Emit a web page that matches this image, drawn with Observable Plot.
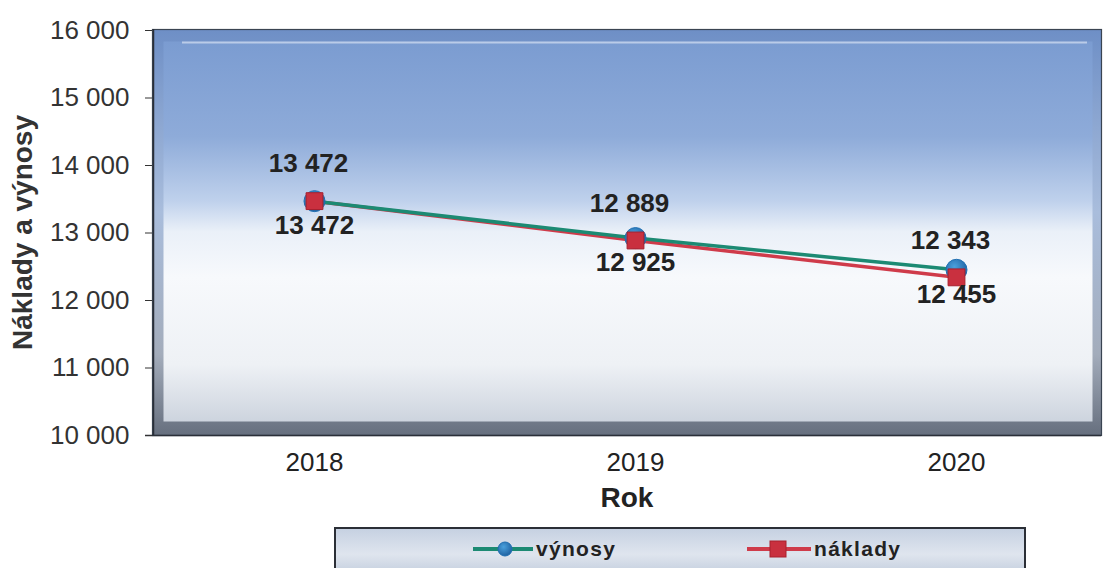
<!DOCTYPE html>
<html><head><meta charset="utf-8">
<script src="https://cdn.jsdelivr.net/npm/d3@7"></script>
<script src="https://cdn.jsdelivr.net/npm/@observablehq/plot@0.6"></script>
<style>
body{margin:0;background:#fff;overflow:hidden;font-family:"Liberation Sans",Arial,sans-serif;}
#chart{position:relative;width:1103px;height:568px;overflow:hidden;}
#chart svg.plot{position:absolute;left:0;top:0;}
#legend{position:absolute;left:334px;top:527px;width:692px;height:50px;border:2px solid #2b2f36;box-sizing:border-box;
  background:linear-gradient(#c6d1e2,#dfe5ee 55%,#c2cddd);}
.li{position:absolute;top:6px;height:28px;display:flex;align-items:center;font-weight:bold;font-size:21px;letter-spacing:1.3px;color:#222;}
.li svg{margin-right:3px;}
</style></head>
<body><div id="chart"></div>
<script>
const years = ["2018", "2019", "2020"];
const vynosy = [13472, 12925, 12455];
const naklady = [13472, 12889, 12343];
const yTicks = [10000, 11000, 12000, 13000, 14000, 15000, 16000];
const seriesNames = ["výnosy", "náklady"];
const colors = {"výnosy": "#1c8a73", "náklady": "#cf3b4a"};

const fmt = d => d3.format(",")(d).replace(/,/g, " ");
const rowsV = years.map((y, i) => ({year: y, value: vynosy[i], series: seriesNames[0]}));
const rowsN = years.map((y, i) => ({year: y, value: naklady[i], series: seriesNames[1]}));

const plot = Plot.plot({
  width: 1103, height: 520,
  marginLeft: 152, marginRight: 2, marginTop: 29, marginBottom: 85,
  style: {fontFamily: "'Liberation Sans', Arial, sans-serif", background: "transparent"},
  x: {type: "point", domain: years, range: [313, 956], padding: 0, label: null},
  y: {domain: [10000, 16000], range: [435, 30], label: null},
  marks: [
    Plot.frame({fill: "url(#gOut)", stroke: "#3a4452", strokeWidth: 1.2}),
    Plot.frame({fill: "url(#gIn)", insetTop: 12, insetLeft: 11, insetBottom: 14, insetRight: 9}),
    Plot.ruleY([16000], {dy: 12, insetLeft: 30, insetRight: 14, stroke: "#eef3fb", strokeWidth: 2, strokeOpacity: 0.55}),
    Plot.ruleY([10000], {stroke: "#2a2f38", strokeWidth: 1.5, insetLeft: -7}),
    Plot.ruleX([years[0]], {dx: -(313 - 152), stroke: "#2a2f38", strokeWidth: 1.5}),
    Plot.axisY({ticks: yTicks, tickFormat: fmt, tickSize: 7, tickPadding: 16, fontSize: 26, stroke: "#333", color: "#333"}),
    Plot.axisX({tickSize: 0, tickPadding: 17, fontSize: 26, color: "#222"}),
    Plot.text(["Náklady a výnosy"], {frameAnchor: "left", textAnchor: "middle", dx: -129, rotate: -90, fontSize: 28, fontWeight: "bold", fill: "#333"}),
    Plot.text(["Rok"], {frameAnchor: "bottom", dy: 71, fontSize: 28, fontWeight: "bold", fill: "#222"}),
    Plot.line(rowsN, {x: "year", y: "value", stroke: colors["náklady"], strokeWidth: 3.5}),
    Plot.line(rowsV, {x: "year", y: "value", stroke: colors["výnosy"], strokeWidth: 3.5}),
    Plot.dot(rowsV, {x: "year", y: "value", r: 10.5, fill: "url(#gDot)", stroke: "#1f6fb2", strokeWidth: 1}),
    Plot.dot(rowsN, {x: "year", y: "value", symbol: "square", r: 9.5, fill: "#c9303f", stroke: "#a8202e", strokeWidth: 1}),
    Plot.text(rowsV, {x: "year", y: "value", text: d => fmt(d.value), dy: 25, fontSize: 26, fontWeight: "bold", fill: "#222"}),
    Plot.text(rowsN, {x: "year", y: "value", text: d => fmt(d.value), dy: -37, dx: -6, fontSize: 26, fontWeight: "bold", fill: "#222"})
  ]
});

const ns = "http://www.w3.org/2000/svg";
const defs = document.createElementNS(ns, "defs");
defs.innerHTML = `
<linearGradient id="gOut" x1="0" y1="0" x2="0" y2="1">
  <stop offset="0" stop-color="#6e8fc6"/><stop offset="0.45" stop-color="#a9bddc"/>
  <stop offset="0.8" stop-color="#a3acbb"/><stop offset="1" stop-color="#666f7e"/>
</linearGradient>
<linearGradient id="gIn" x1="0" y1="0" x2="0" y2="1">
  <stop offset="0" stop-color="#7b9cd1"/><stop offset="0.25" stop-color="#8eabd9"/>
  <stop offset="0.42" stop-color="#bfd1ec"/><stop offset="0.5" stop-color="#eaf0f8"/>
  <stop offset="0.62" stop-color="#f7f9fc"/><stop offset="0.85" stop-color="#eef1f5"/>
  <stop offset="1" stop-color="#cdd4de"/>
</linearGradient>
<radialGradient id="gDot" cx="0.4" cy="0.35" r="0.7">
  <stop offset="0" stop-color="#4aa0dc"/><stop offset="1" stop-color="#1c5e9e"/>
</radialGradient>`;
plot.insertBefore(defs, plot.firstChild);
plot.classList.add("plot");
const chart = document.getElementById("chart");
chart.appendChild(plot);

const legend = document.createElement("div");
legend.id = "legend";
legend.innerHTML = `
<div class="li" style="left:137px"><svg width="60" height="20"><line x1="0" y1="10" x2="60" y2="10" stroke="${colors["výnosy"]}" stroke-width="4"/><circle cx="32" cy="10" r="7" fill="url(#gDot2)" stroke="#1f6fb2"/><defs><radialGradient id="gDot2" cx="0.4" cy="0.35" r="0.7"><stop offset="0" stop-color="#4aa0dc"/><stop offset="1" stop-color="#1c5e9e"/></radialGradient></defs></svg>${seriesNames[0]}</div>
<div class="li" style="left:411px"><svg width="64" height="20"><line x1="0" y1="10" x2="64" y2="10" stroke="${colors["náklady"]}" stroke-width="4"/><rect x="23" y="2" width="16" height="16" fill="#c9303f" stroke="#a8202e"/></svg>${seriesNames[1]}</div>`;
chart.appendChild(legend);
</script>
</body></html>
